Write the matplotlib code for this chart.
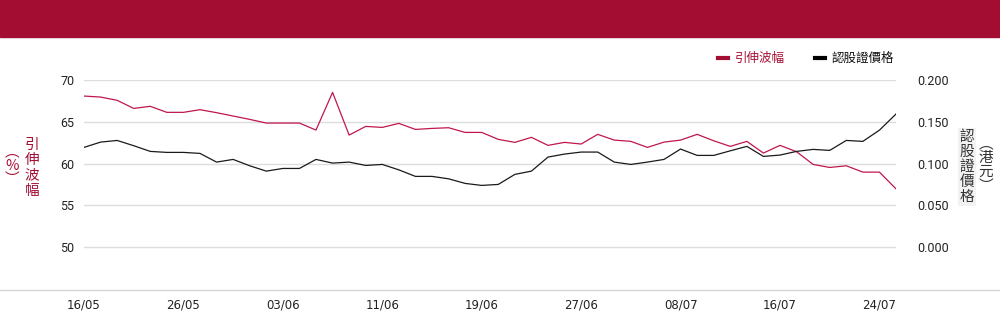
import matplotlib
matplotlib.use("Agg")
import matplotlib.pyplot as plt
from matplotlib.lines import Line2D

# ---- data ----
tick_labels = ["16/05", "26/05", "03/06", "11/06", "19/06", "27/06", "08/07", "16/07", "24/07"]
tick_index = [0, 6, 12, 18, 24, 30, 36, 42, 48]

implied_vol = [68.08, 67.96, 67.57, 66.6, 66.85, 66.13, 66.13, 66.45, 66.09, 65.69,
               65.29, 64.85, 64.85, 64.85, 64.01, 68.52, 63.41, 64.45, 64.33, 64.81,
               64.09, 64.21, 64.29, 63.73, 63.73, 62.9, 62.54, 63.14, 62.18, 62.54,
               62.34, 63.5, 62.81, 62.66, 61.94, 62.57, 62.81, 63.5, 62.73, 62.06,
               62.66, 61.26, 62.18, 61.42, 59.9, 59.54, 59.74, 58.98, 58.98, 56.98]

warrant_price = [0.1194, 0.1257, 0.1277, 0.1214, 0.1146, 0.1134, 0.1134, 0.1122, 0.1018, 0.1050,
                 0.0974, 0.0910, 0.0942, 0.0942, 0.1050, 0.1006, 0.1018, 0.0978, 0.0990, 0.0925,
                 0.0847, 0.0847, 0.0818, 0.0763, 0.0739, 0.0751, 0.0871, 0.0910, 0.1078, 0.1114,
                 0.1138, 0.1138, 0.1018, 0.0990, 0.1018, 0.1050, 0.1174, 0.1098, 0.1098, 0.1153,
                 0.1206, 0.1086, 0.1102, 0.1146, 0.1170, 0.1158, 0.1277, 0.1266, 0.1400, 0.1593]

left_ticks = [50, 55, 60, 65, 70]
right_ticks = [0.0, 0.05, 0.10, 0.15, 0.20]

RED = "#a50e33"
LINE_RED = "#c0174a"
CJK = ["Noto Sans CJK TC", "DejaVu Sans"]

fig = plt.figure(figsize=(10, 3.24), dpi=100)

# header band
fig.patches.append(plt.Rectangle((0, 1 - 37 / 324), 1, 37 / 324, transform=fig.transFigure,
                                 color="#a30d32", zorder=0))
# bottom full-width rule
fig.add_artist(Line2D([0, 1], [1 - 290 / 324, 1 - 290 / 324], transform=fig.transFigure,
                      color="#d6d6d6", lw=1))

ax = fig.add_axes([0.084, 1 - 289 / 324, 0.812, 209 / 324])
x = list(range(len(implied_vol)))
ax.plot(x, implied_vol, color=LINE_RED, lw=0.9)
ax.set_xlim(0, len(x) - 1)
ax.set_ylim(45, 70)
ax.set_yticks(left_ticks)
ax.set_yticklabels([str(t) for t in left_ticks])
ax.grid(axis="y", color="#dddddd", lw=1)
ax.set_axisbelow(True)
ax.set_xticks(tick_index)
ax.set_xticklabels(tick_labels)
for s in ax.spines.values():
    s.set_visible(False)
ax.tick_params(axis="y", length=0, pad=7, labelsize=9, labelcolor="#222222")
ax.tick_params(axis="x", length=0, pad=7, labelsize=8.5, labelcolor="#222222")
for lab in ax.get_yticklabels():
    lab.set_family("Roboto")
for lab in ax.get_xticklabels():
    lab.set_family(["Liberation Sans Narrow", "DejaVu Sans"])

ax2 = ax.twinx()
ax2.plot(x, warrant_price, color="#1a1a1a", lw=0.9)
ax2.set_ylim(-0.05, 0.20)
ax2.set_yticks(right_ticks)
ax2.set_yticklabels([f"{t:.3f}" for t in right_ticks])
for s in ax2.spines.values():
    s.set_visible(False)
ax2.tick_params(axis="y", length=0, pad=15, labelsize=9, labelcolor="#222222")
for lab in ax2.get_yticklabels():
    lab.set_family("Roboto")

# axis titles (vertical text)
fig.text(32 / 1000, 1 - 168 / 324, "引\n伸\n波\n幅", color=RED, family=CJK, fontsize=10.5,
         ha="center", va="center", linespacing=1.12)
fig.text(12 / 1000, 1 - 166 / 324, "︵\n%\n︶", color=RED, family=CJK, fontsize=10.5,
         ha="center", va="center", linespacing=0.95)
fig.text(967 / 1000, 1 - 167 / 324, "認\n股\n證\n價\n格", color="#333333", family=CJK, fontsize=10.5,
         ha="center", va="center", linespacing=1.1,
         bbox=dict(facecolor="#f2f2f2", edgecolor="none", pad=1))
fig.text(986 / 1000, 1 - 165 / 324, "︵\n港\n元\n︶", color="#333333", family=CJK, fontsize=10.5,
         ha="center", va="center", linespacing=1.0)

# legend
ly = 1 - 58 / 324
fig.add_artist(Line2D([718 / 1000, 728 / 1000], [ly, ly], transform=fig.transFigure, color=RED, lw=3))
fig.text(735 / 1000, ly, "引伸波幅", color=RED, family=CJK, fontsize=9, va="center", ha="left")
fig.add_artist(Line2D([815 / 1000, 825 / 1000], [ly, ly], transform=fig.transFigure, color="#000000", lw=3))
fig.text(832 / 1000, ly, "認股證價格", color="#111111", family=CJK, fontsize=9, va="center", ha="left")

fig.savefig("out.png", dpi=100)
